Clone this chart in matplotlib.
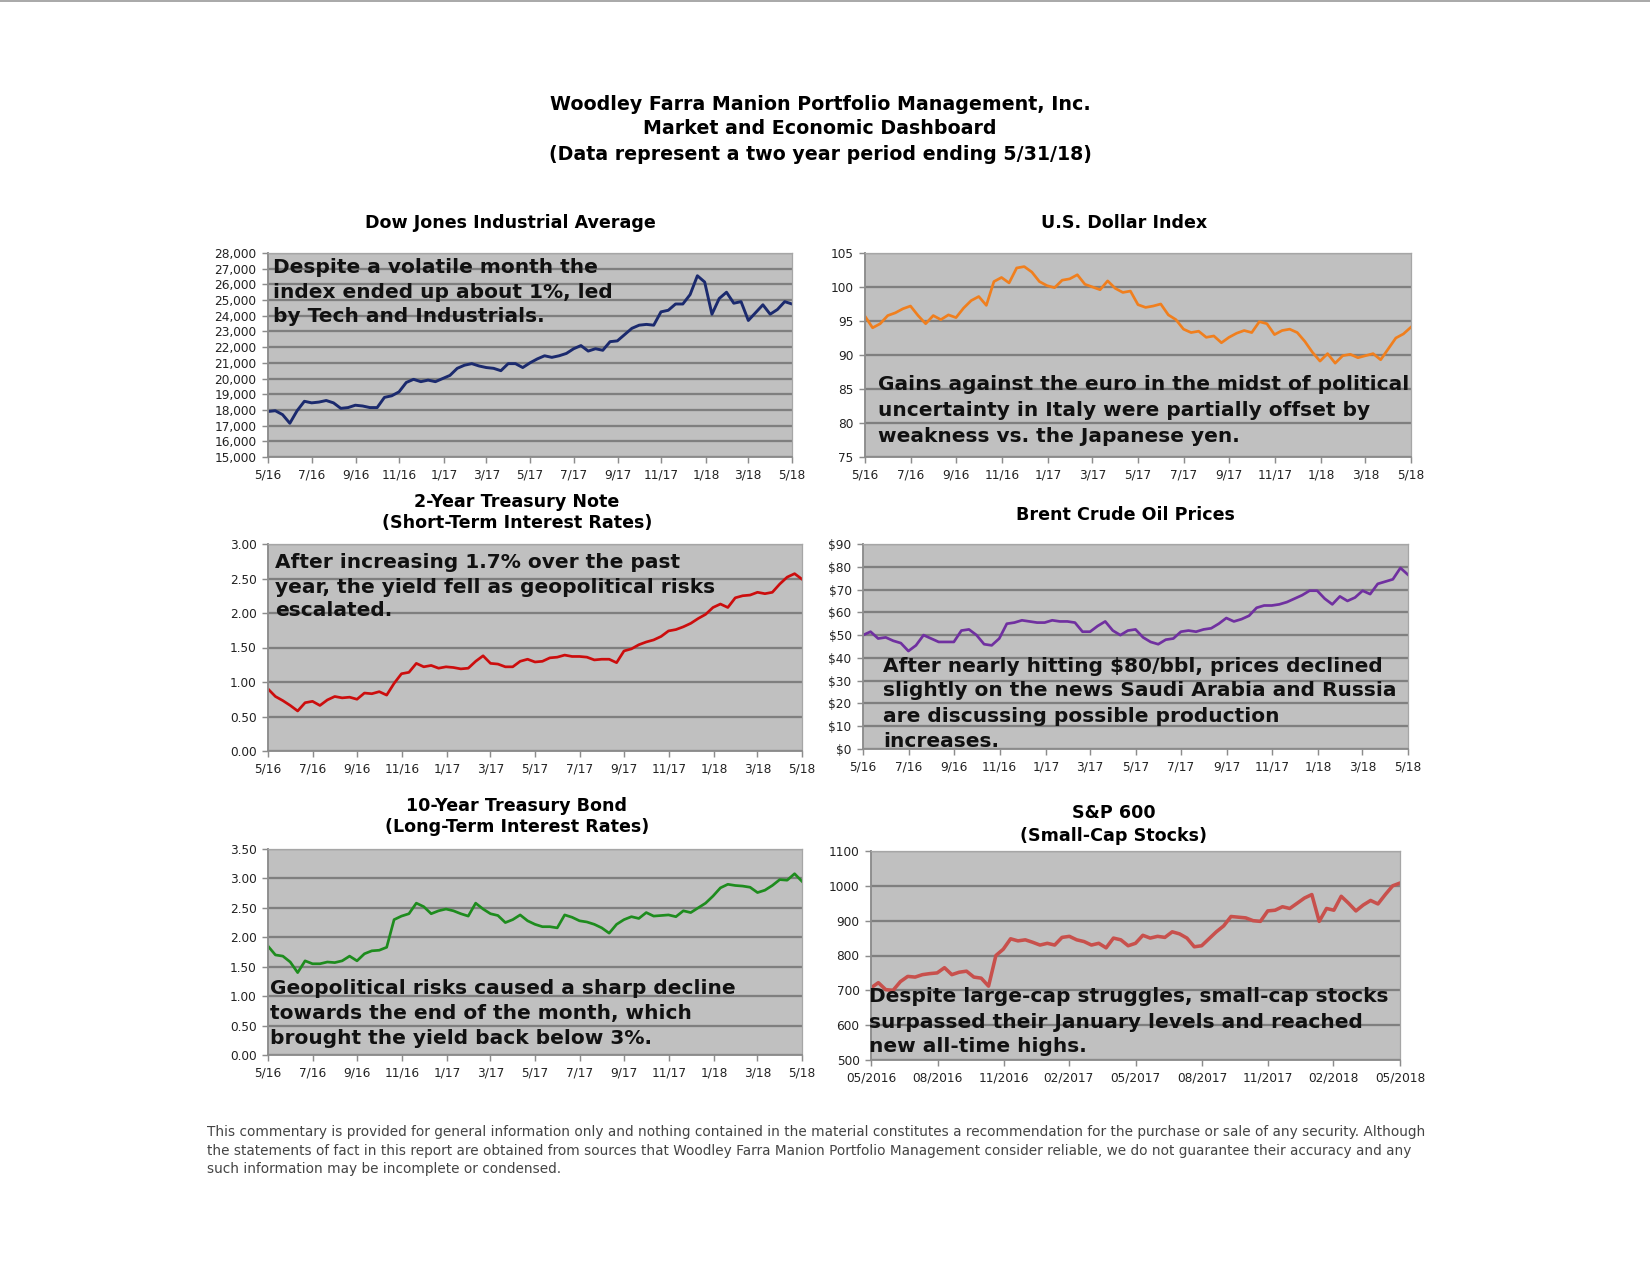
import numpy as np
import pandas as pd
import matplotlib
matplotlib.use("Agg")
import matplotlib.pyplot as plt
from matplotlib.ticker import FuncFormatter, MultipleLocator
from matplotlib.lines import Line2D

# ~3 readings per month, 5/31/16 .. 5/31/18
dates = pd.date_range("2016-05-31", "2018-05-31", periods=73)

dow = [17900, 17950, 17700, 17150, 17950, 18550, 18450, 18500, 18600, 18450,
       18100, 18150, 18300, 18250, 18150, 18150, 18800, 18900, 19150, 19750,
       19950, 19800, 19900, 19800, 20000, 20200, 20650, 20850, 20950, 20800,
       20700, 20650, 20500, 20950, 20950, 20700, 21000, 21250, 21450, 21350,
       21450, 21600, 21900, 22100, 21750, 21900, 21800, 22350, 22400, 22800,
       23200, 23400, 23450, 23400, 24250, 24350, 24750, 24750, 25350, 26550,
       26150, 24100, 25100, 25500, 24800, 24900, 23700, 24200, 24700, 24100,
       24400, 24900, 24750]

usd = [95.7, 94.0, 94.6, 95.8, 96.2, 96.8, 97.2, 95.8, 94.6, 95.8,
       95.2, 95.9, 95.5, 96.9, 98.0, 98.6, 97.3, 100.8, 101.4, 100.6,
       102.8, 103.0, 102.2, 100.8, 100.2, 99.9, 101.0, 101.2, 101.8, 100.4,
       100.0, 99.6, 100.9, 99.8, 99.2, 99.4, 97.4, 97.0, 97.2, 97.5,
       95.9, 95.2, 93.8, 93.3, 93.5, 92.6, 92.8, 91.8, 92.6, 93.2,
       93.6, 93.3, 94.9, 94.6, 93.0, 93.6, 93.8, 93.3, 92.0, 90.4,
       89.1, 90.2, 88.8, 89.9, 90.1, 89.6, 89.9, 90.2, 89.3, 90.9,
       92.5, 93.1, 94.1]

t2 = [0.90, 0.79, 0.73, 0.66, 0.58, 0.70, 0.72, 0.66, 0.74, 0.79,
      0.77, 0.78, 0.75, 0.84, 0.83, 0.86, 0.81, 0.98, 1.12, 1.14,
      1.27, 1.22, 1.24, 1.20, 1.22, 1.21, 1.19, 1.20, 1.30, 1.38,
      1.27, 1.26, 1.22, 1.22, 1.30, 1.33, 1.29, 1.30, 1.35, 1.36,
      1.39, 1.37, 1.37, 1.36, 1.32, 1.33, 1.33, 1.28, 1.45, 1.48,
      1.54, 1.58, 1.61, 1.66, 1.74, 1.76, 1.80, 1.85, 1.92, 1.98,
      2.08, 2.13, 2.08, 2.22, 2.25, 2.26, 2.30, 2.28, 2.30, 2.42,
      2.52, 2.57, 2.49]

brent = [50, 51.5, 48.5, 49, 47.5, 46.5, 43, 45.5, 50, 48.5,
         47, 47, 47, 52, 52.5, 50, 46, 45.5, 48.5, 55,
         55.5, 56.5, 56, 55.5, 55.5, 56.5, 56, 56, 55.5, 51.5,
         51.5, 54, 56, 52, 50, 52, 52.5, 49, 47, 46,
         48, 48.5, 51.5, 52, 51.5, 52.5, 53, 55, 57.5, 56,
         57, 58.5, 62, 63, 63, 63.5, 64.5, 66, 67.5, 69.5,
         69.5, 66, 63.5, 67, 65, 66.5, 69.5, 68, 72.5, 73.5,
         74.5, 79.5, 76.5]

t10 = [1.85, 1.70, 1.68, 1.58, 1.40, 1.60, 1.55, 1.55, 1.58, 1.57,
       1.60, 1.68, 1.60, 1.72, 1.77, 1.78, 1.83, 2.30, 2.36, 2.40,
       2.58, 2.52, 2.40, 2.45, 2.48, 2.45, 2.40, 2.36, 2.58, 2.48,
       2.40, 2.37, 2.25, 2.30, 2.38, 2.28, 2.22, 2.18, 2.18, 2.16,
       2.38, 2.34, 2.28, 2.26, 2.22, 2.16, 2.07, 2.22, 2.30, 2.35,
       2.32, 2.42, 2.36, 2.37, 2.38, 2.35, 2.45, 2.42, 2.50, 2.58,
       2.70, 2.84, 2.90, 2.88, 2.87, 2.85, 2.76, 2.80, 2.88, 2.98,
       2.97, 3.08, 2.95]

sp600 = [707, 722, 702, 700, 725, 740, 738, 745, 748, 750,
         765, 745, 752, 755, 738, 735, 712, 800, 818, 848,
         842, 845, 838, 830, 835, 830, 852, 855, 845, 840,
         830, 835, 822, 850, 845, 828, 835, 858, 850, 855,
         852, 868, 862, 850, 825, 828, 848, 868, 885, 912,
         910, 908, 900, 898, 928, 930, 940, 935, 950, 965,
         975, 898, 935, 930, 970, 950, 928, 945, 958, 948,
         975, 1000, 1008]

W, H = 1650, 1275
fig = plt.figure(figsize=(11, 8.5), dpi=150)
fig.patch.set_facecolor("white")


def rect(l, t, r, b):
    return [l / W, 1 - b / H, (r - l) / W, (b - t) / H]


def ftext(x, y, s, **kw):
    fig.text(x / W, 1 - y / H, s, **kw)


fig.add_artist(Line2D([0, 1], [1 - 1 / H, 1 - 1 / H], color="#999999", lw=0.8))

# header
for y, s in [(104, "Woodley Farra Manion Portfolio Management, Inc."),
             (129, "Market and Economic Dashboard"),
             (155, "(Data represent a two year period ending 5/31/18)")]:
    ftext(820, y, s, ha="center", va="center", fontsize=9.1, fontweight="bold")

two_month = pd.date_range("2016-05-31", "2018-05-31", freq="2ME")
three_month = pd.date_range("2016-05-31", "2018-05-31", freq="3ME")


def panel(box, values, color, ylo, yhi, step, fmt, ticks="2m", lw=1.3):
    ax = fig.add_axes(rect(*box))
    ax.set_facecolor("#C0C0C0")
    ax.plot(dates, values, color=color, lw=lw, solid_joinstyle="round")
    ax.set_ylim(ylo, yhi)
    ax.set_xlim(dates[0], dates[-1])
    ax.yaxis.set_major_locator(MultipleLocator(step))
    ax.yaxis.set_major_formatter(FuncFormatter(fmt))
    ax.grid(axis="y", color="#7F7F7F", lw=1.1)
    ax.set_axisbelow(True)
    if ticks == "2m":
        ax.set_xticks(two_month)
        ax.set_xticklabels([f"{d.month}/{d.strftime('%y')}" for d in two_month])
    else:
        ax.set_xticks(three_month)
        ax.set_xticklabels([d.strftime("%m/%Y") for d in three_month])
    for side in ["top", "right"]:
        ax.spines[side].set_color("#A6A6A6")
        ax.spines[side].set_linewidth(0.6)
    for side in ["left", "bottom"]:
        ax.spines[side].set_color("#8C8C8C")
        ax.spines[side].set_linewidth(0.9)
    ax.tick_params(axis="both", labelsize=5.8, length=3, width=0.7,
                   color="#8C8C8C", pad=2.5, labelcolor="#222222")
    return ax


panel((268, 253, 792, 457), dow, "#1B2A6E", 15000, 28000, 1000,
      lambda v, p: f"{v:,.0f}", lw=1.4)
panel((865, 253, 1411, 457), usd, "#F07F1E", 75, 105, 5,
      lambda v, p: f"{v:.0f}")
panel((268, 544, 802, 751), t2, "#CC0D0D", 0, 3, 0.5,
      lambda v, p: f"{v:.2f}")
panel((863, 544, 1408, 749), brent, "#7030A0", 0, 90, 10,
      lambda v, p: f"${v:.0f}")
panel((268, 849, 802, 1055), t10, "#1E8C1E", 0, 3.5, 0.5,
      lambda v, p: f"{v:.2f}")
panel((871, 851, 1400, 1060), sp600, "#C8504C", 500, 1100, 100,
      lambda v, p: f"{v:.0f}", ticks="3m", lw=1.7)

# chart titles
tkw = dict(ha="center", va="center", fontsize=8.4, fontweight="bold")
ftext(510, 223, "Dow Jones Industrial Average", **tkw)
ftext(1124, 223, "U.S. Dollar Index", **tkw)
ftext(517, 502, "2-Year Treasury Note", **tkw)
ftext(517, 523, "(Short-Term Interest Rates)", **tkw)
ftext(1125, 515, "Brent Crude Oil Prices", **tkw)
ftext(517, 806, "10-Year Treasury Bond", **tkw)
ftext(517, 827, "(Long-Term Interest Rates)", **tkw)
ftext(1114, 813, "S&P 600", **tkw)
ftext(1114, 836, "(Small-Cap Stocks)", **tkw)

# commentary, one line at a time
notes = [
    (273, [267, 292, 316], ["Despite a volatile month the",
                            "index ended up about 1%, led",
                            "by Tech and Industrials."]),
    (878, [385, 410, 436], ["Gains against the euro in the midst of political",
                            "uncertainty in Italy were partially offset by",
                            "weakness vs. the Japanese yen."]),
    (275, [562, 587, 611], ["After increasing 1.7% over the past",
                            "year, the yield fell as geopolitical risks",
                            "escalated."]),
    (883, [666, 691, 717, 742], ["After nearly hitting $80/bbl, prices declined",
                                 "slightly on the news Saudi Arabia and Russia",
                                 "are discussing possible production",
                                 "increases."]),
    (270, [988, 1013, 1039], ["Geopolitical risks caused a sharp decline",
                              "towards the end of the month, which",
                              "brought the yield back below 3%."]),
    (869, [997, 1022, 1047], ["Despite large-cap struggles, small-cap stocks",
                              "surpassed their January levels and reached",
                              "new all-time highs."]),
]
for x, ys, lines in notes:
    for y, s in zip(ys, lines):
        ftext(x, y, s, ha="left", va="center", fontsize=9.7,
              fontweight="bold", color="#111111")

# disclaimer
fkw = dict(ha="left", va="center", fontsize=6.55, color="#444444")
ftext(207, 1132, "This commentary is provided for general information only and nothing contained in the material constitutes a recommendation for the purchase or sale of any security. Although", **fkw)
ftext(207, 1151, "the statements of fact in this report are obtained from sources that Woodley Farra Manion Portfolio Management consider reliable, we do not guarantee their accuracy and any", **fkw)
ftext(207, 1169, "such information may be incomplete or condensed.", **fkw)

fig.savefig("out.png", dpi=150, facecolor="white")
